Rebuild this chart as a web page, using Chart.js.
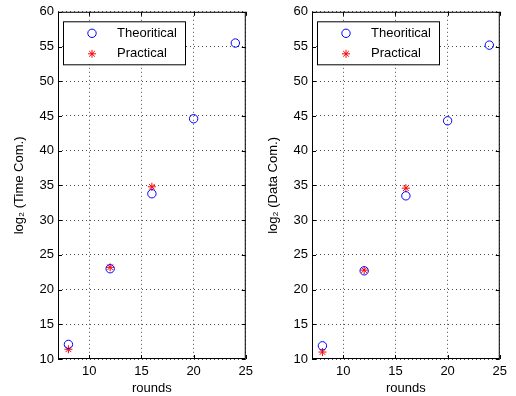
<!DOCTYPE html>
<html>
<head>
<meta charset="utf-8">
<script src="https://cdn.jsdelivr.net/npm/chart.js@4"></script>
<style>
  body { margin: 0; background: #fff; }
  #wrap { position: relative; width: 516px; height: 396px; }
  canvas { position: absolute; top: 0; }
</style>
</head>
<body>
<div id="wrap">
  <canvas id="timeChart" width="258" height="396" style="left:0px"></canvas>
  <canvas id="dataChart" width="258" height="396" style="left:254px"></canvas>
</div>
<script>
// data
const rounds = [8, 12, 16, 20, 24];
const practicalRounds = [8, 12, 16];
const timeTheoritical = [12.1, 23.0, 33.8, 44.6, 55.5];
const timePractical = [11.4, 23.2, 34.8];
const dataTheoritical = [11.9, 22.7, 33.5, 44.3, 55.2];
const dataPractical = [11.0, 22.8, 34.6];
const xTicks = [10, 15, 20, 25];
const yTicks = [10, 15, 20, 25, 30, 35, 40, 45, 50, 55, 60];

const FONT = 'Liberation Sans, Arial, Helvetica, sans-serif';

// matlab style box with inward tick marks
const boxPlugin = {
  id: 'box',
  beforeDatasetsDraw(chart) {
    const { ctx, chartArea: a, scales: { x, y } } = chart;
    const len = 4;
    ctx.save();
    ctx.strokeStyle = '#000';
    ctx.lineWidth = 1;
    ctx.beginPath();
    x.ticks.forEach(t => {
      const px = Math.round(x.getPixelForValue(t.value)) + 0.5;
      ctx.moveTo(px, a.bottom); ctx.lineTo(px, a.bottom - len);
      ctx.moveTo(px, a.top); ctx.lineTo(px, a.top + len);
    });
    y.ticks.forEach(t => {
      const py = Math.round(y.getPixelForValue(t.value)) + 0.5;
      ctx.moveTo(a.left, py); ctx.lineTo(a.left + len, py);
      ctx.moveTo(a.right, py); ctx.lineTo(a.right - len, py);
    });
    ctx.stroke();
    ctx.strokeRect(a.left + 0.5, a.top + 0.5, a.right - a.left - 1, a.bottom - a.top - 1);
    ctx.restore();
  }
};

// legend box inside the axes, top left
const legendBox = {
  id: 'legendBox',
  afterDatasetsDraw(chart) {
    const { ctx, chartArea: a } = chart;
    const bx = a.left + 5, by = a.top + 9.5, bw = 122, bh = 43;
    ctx.save();
    ctx.fillStyle = '#fff';
    ctx.fillRect(bx, by, bw, bh);
    ctx.strokeStyle = '#000';
    ctx.lineWidth = 1;
    ctx.strokeRect(bx + 0.5, by + 0.5, bw, bh);
    chart.data.datasets.forEach((ds, i) => {
      const cy = by + 12 + i * 20.5;
      ctx.strokeStyle = ds.borderColor;
      ctx.fillStyle = 'rgba(0,0,0,0)';
      ctx.lineWidth = ds.borderWidth;
      Chart.helpers.drawPoint(ctx, {
        pointStyle: ds.pointStyle, rotation: 0,
        radius: ds.pointRadius, borderWidth: ds.borderWidth
      }, bx + 29, cy);
      ctx.fillStyle = '#000';
      ctx.font = '13px ' + FONT;
      ctx.textAlign = 'left';
      ctx.textBaseline = 'middle';
      ctx.fillText(ds.label, bx + 54, cy);
    });
    ctx.restore();
  }
};

function makeChart(id, theo, prac, yTitle) {
  const data = {
    datasets: [{
      label: 'Theoritical',
      data: rounds.map((r, i) => ({ x: r, y: theo[i] })),
      pointStyle: 'circle',
      pointRadius: 4.2,
      borderWidth: 1,
      borderColor: '#0000ff',
      backgroundColor: 'rgba(0,0,0,0)',
      showLine: false
    }, {
      label: 'Practical',
      data: practicalRounds.map((r, i) => ({ x: r, y: prac[i] })),
      pointStyle: 'star',
      pointRadius: 4,
      borderWidth: 1,
      borderColor: '#ff0000',
      backgroundColor: '#ff0000',
      showLine: false
    }]
  };

  const gridOpts = { color: 'rgba(0,0,0,0.7)', lineWidth: 1, drawTicks: false };
  const borderOpts = { display: false, dash: [1, 3] };

  return new Chart(document.getElementById(id), {
    type: 'scatter',
    data,
    plugins: [boxPlugin, legendBox],
    options: {
      responsive: false,
      animation: false,
      devicePixelRatio: 1,
      layout: { padding: { top: 9, right: 9, left: 0, bottom: 0 }, autoPadding: false },
      plugins: { legend: { display: false }, tooltip: { enabled: false } },
      scales: {
        x: {
          type: 'linear', min: 7, max: 25,
          afterBuildTicks: s => { s.ticks = xTicks.map(v => ({ value: v })); },
          afterFit: s => { s.height = 37; },
          grid: gridOpts,
          border: borderOpts,
          ticks: { color: '#000', padding: 5, font: { family: FONT, size: 13 } },
          title: { display: true, text: 'rounds', color: '#000',
                   padding: { top: 0, bottom: 0 }, font: { family: FONT, size: 13 } }
        },
        y: {
          type: 'linear', min: 10, max: 60,
          afterBuildTicks: s => { s.ticks = yTicks.map(v => ({ value: v })); },
          afterFit: s => { s.width = 58; },
          grid: gridOpts,
          border: borderOpts,
          ticks: { color: '#000', padding: 4, font: { family: FONT, size: 13 } },
          title: { display: true, text: yTitle, color: '#000',
                   padding: { top: 12, bottom: 0 }, font: { family: FONT, size: 13 } }
        }
      }
    }
  });
}

makeChart('timeChart', timeTheoritical, timePractical, 'log\u2082 (Time Com.)');
makeChart('dataChart', dataTheoritical, dataPractical, 'log\u2082 (Data Com.)');
</script>
</body>
</html>
